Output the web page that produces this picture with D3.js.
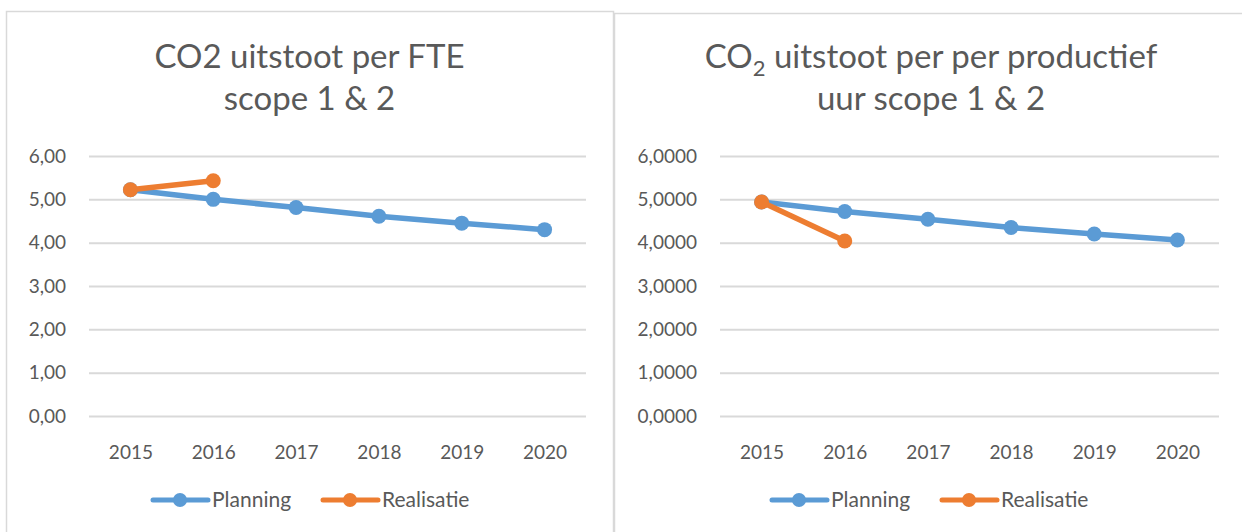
<!DOCTYPE html>
<html>
<head>
<meta charset="utf-8">
<script src="https://cdn.jsdelivr.net/npm/d3@7"></script>
<style>
  body { margin: 0; background: #fff; }
  text { font-family: Lato, "Open Sans", sans-serif; fill: #595959; }
</style>
</head>
<body>
<svg id="chart" width="1242" height="532"></svg>
<script>
var years = ["2015", "2016", "2017", "2018", "2019", "2020"];
var yTicks = [0, 1, 2, 3, 4, 5, 6];
var seriesNames = ["Planning", "Realisatie"];

// left: per FTE
var ftePlanning = [5.22, 5.00, 4.81, 4.61, 4.45, 4.30];
var fteRealisatie = [5.22, 5.43];
// right: per productief uur
var uurPlanning = [4.94, 4.72, 4.54, 4.35, 4.20, 4.06];
var uurRealisatie = [4.94, 4.04];

var colors = ["#5b9bd5", "#ed7d31"];
var nl = d3.formatLocale({decimal: ",", thousands: ".", grouping: [3], currency: ["€", ""]});

var svg = d3.select("#chart");

var panels = [
  {x0: 6, x1: 613, top: 11, plotL: 89, plotR: 586, fmt: nl.format(".2f"),
   title: [["CO2 uitstoot per FTE"], ["scope 1 & 2"]],
   data: [ftePlanning, fteRealisatie], legendX: 153},
  {x0: 614, x1: 1260, top: 13, plotL: 720, plotR: 1219, fmt: nl.format(".4f"),
   title: [["CO", "2", " uitstoot per per productief"], ["uur scope 1 & 2"]],
   data: [uurPlanning, uurRealisatie], legendX: 772}
];

panels.forEach(function(p){
  var g = svg.append("g");

  g.append("rect")
    .attr("x", p.x0 + 0.5).attr("y", p.top + 0.5)
    .attr("width", p.x1 - p.x0).attr("height", 600)
    .attr("fill", "#fff").attr("stroke", "#d9d9d9").attr("stroke-width", 1.5);

  var cx = (p.x0 + p.x1) / 2;
  if (p.x1 > 1242) cx = 931;

  // title
  p.title.forEach(function(line, i){
    var t = g.append("text")
      .attr("x", cx).attr("y", 68 + i*42)
      .attr("text-anchor", "middle")
      .style("font-size", "33px");
    if (line.length === 1) {
      t.text(line[0]);
    } else {
      t.append("tspan").text(line[0]);
      t.append("tspan").attr("dy", 8).style("font-size", "22px").text(line[1]);
      t.append("tspan").attr("dy", -8).text(line[2]);
    }
  });

  var x = d3.scalePoint().domain(years).range([p.plotL, p.plotR]).padding(0.5);
  var y = d3.scaleLinear().domain([0, 6]).range([416, 156]);

  // gridlines + y labels
  var yAxis = g.append("g")
    .attr("transform", "translate(" + p.plotL + ",0)")
    .call(d3.axisLeft(y).tickValues(yTicks).tickFormat(p.fmt)
      .tickSize(-(p.plotR - p.plotL)).tickPadding(23));
  yAxis.select(".domain").remove();
  yAxis.selectAll("line").attr("stroke", "#d9d9d9").attr("stroke-width", 2);
  yAxis.selectAll("text").style("font-size", "19px").attr("fill", "#595959")
    .style("font-family", "Lato, sans-serif");

  // x labels
  var xAxis = g.append("g")
    .attr("transform", "translate(0,416)")
    .call(d3.axisBottom(x).tickSize(0).tickPadding(30));
  xAxis.select(".domain").remove();
  xAxis.selectAll("text").style("font-size", "19px").attr("fill", "#595959")
    .style("font-family", "Lato, sans-serif");

  var line = d3.line()
    .x(function(d, i){ return x(years[i]); })
    .y(function(d){ return y(d); });

  p.data.forEach(function(vals, s){
    g.append("path")
      .datum(vals)
      .attr("d", line)
      .attr("fill", "none")
      .attr("stroke", colors[s])
      .attr("stroke-width", 5.5)
      .attr("stroke-linejoin", "round");
    g.selectAll(".pt" + s)
      .data(vals)
      .enter()
      .append("circle")
        .attr("cx", function(d, i){ return x(years[i]); })
        .attr("cy", function(d){ return y(d); })
        .attr("r", 7.5)
        .attr("fill", colors[s]);
  });

  // legend
  var lg = g.append("g").attr("transform", "translate(" + p.legendX + ",500)");
  var offsets = [0, 170];
  seriesNames.forEach(function(name, s){
    var it = lg.append("g").attr("transform", "translate(" + offsets[s] + ",0)");
    it.append("line").attr("x1", 0).attr("x2", 55).attr("y1", 0).attr("y2", 0)
      .attr("stroke", colors[s]).attr("stroke-width", 5).attr("stroke-linecap", "round");
    it.append("circle").attr("cx", 27).attr("r", 7).attr("fill", colors[s]);
    it.append("text").attr("x", 59).attr("y", 7).style("font-size", "21px").text(name);
  });
});
</script>
</body>
</html>
